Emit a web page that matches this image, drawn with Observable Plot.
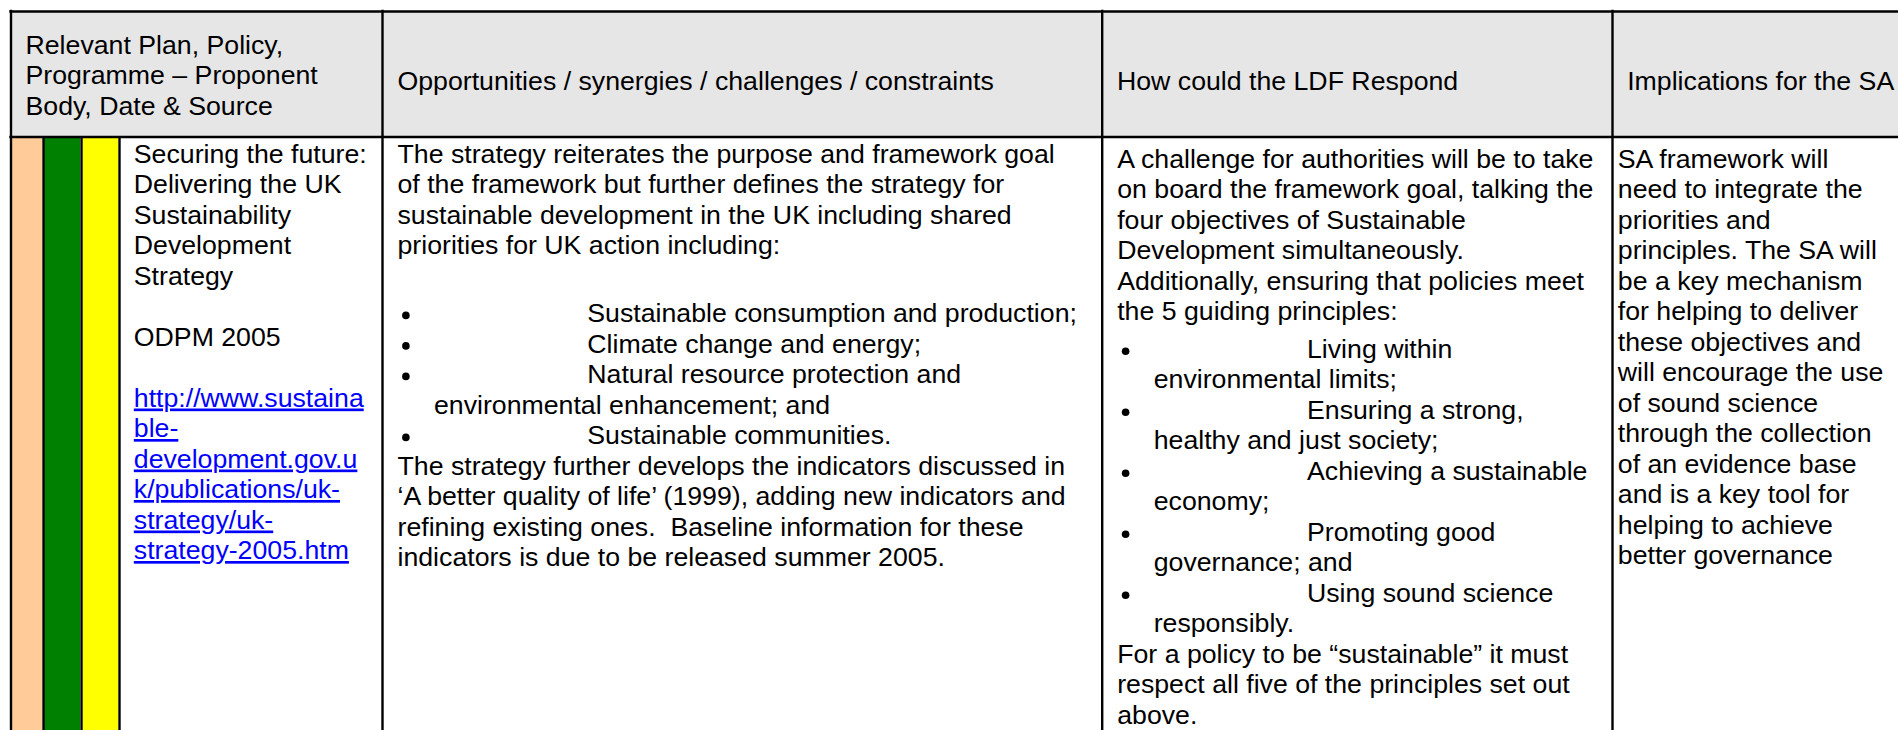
<!DOCTYPE html>
<html><head><meta charset="utf-8">
<script src="https://cdn.jsdelivr.net/npm/d3@7"></script>
<script src="https://cdn.jsdelivr.net/npm/@observablehq/plot@0.6"></script>
<style>
html,body{margin:0;padding:0;background:#fff;}
svg text{white-space:pre;}
</style></head><body><div id="chart"></div><script>
// ---------- content ----------
const headerFirstColumn = ["Relevant Plan, Policy,", "Programme – Proponent", "Body, Date & Source"];
const headers = ["Opportunities / synergies / challenges / constraints", "How could the LDF Respond", "Implications for the SA"];

const ratingColours = ["#FFCC99", "#008000", "#FFFF00"];

const planTitle = ["Securing the future:", "Delivering the UK", "Sustainability", "Development", "Strategy"];
const planSource = ["ODPM 2005"];
const planLink = ["http://www.sustaina", "ble-", "development.gov.u", "k/publications/uk-", "strategy/uk-", "strategy-2005.htm"];

const opportunitiesIntro = [
  "The strategy reiterates the purpose and framework goal",
  "of the framework but further defines the strategy for",
  "sustainable development in the UK including shared",
  "priorities for UK action including:"
];
const sharedPriorities = [
  ["Sustainable consumption and production;"],
  ["Climate change and energy;"],
  ["Natural resource protection and", "environmental enhancement; and"],
  ["Sustainable communities."]
];
const opportunitiesOutro = [
  "The strategy further develops the indicators discussed in",
  "\u2018A better quality of life\u2019 (1999), adding new indicators and",
  "refining existing ones.  Baseline information for these",
  "indicators is due to be released summer 2005."
];

const ldfIntro = [
  "A challenge for authorities will be to take",
  "on board the framework goal, talking the",
  "four objectives of Sustainable",
  "Development simultaneously.",
  "Additionally, ensuring that policies meet",
  "the 5 guiding principles:"
];
const guidingPrinciples = [
  ["Living within", "environmental limits;"],
  ["Ensuring a strong,", "healthy and just society;"],
  ["Achieving a sustainable", "economy;"],
  ["Promoting good", "governance; and"],
  ["Using sound science", "responsibly."]
];
const ldfOutro = [
  "For a policy to be \u201Csustainable\u201D it must",
  "respect all five of the principles set out",
  "above."
];

const saImplications = [
  "SA framework will", "need to integrate the", "priorities and", "principles. The SA will",
  "be a key mechanism", "for helping to deliver", "these objectives and", "will encourage the use",
  "of sound science", "through the collection", "of an evidence base", "and is a key tool for",
  "helping to achieve", "better governance"
];

// ---------- layout ----------
const W = 1898, H = 730;
const LH = 30.5;          // line height
const LIST_GAP = 7;       // space before a bulleted list
const tableTop = 11, headerBottom = 136.5, tableLeft = 10.5;
const colLines = [382, 1101.7, 1612];
const stripeBounds = [[11.7, 42], [44, 80], [82, 118]];
const stripeDividers = [43, 81, 119];

const texts = [];   // {x,y,text,kind}
const bullets = []; // {x,y}

// header
headerFirstColumn.forEach((t, i) => texts.push({x: 25, y: 53.3 + i * LH, text: t, kind: "head"}));
[397, 1116.5, 1626.7].forEach((x, i) => texts.push({x, y: 89.5, text: headers[i], kind: "head"}));

// column 0
{
  let y = 162;
  planTitle.forEach(t => { texts.push({x: 133.3, y, text: t, kind: "body"}); y += LH; });
  y += LH;
  planSource.forEach(t => { texts.push({x: 133.3, y, text: t, kind: "body"}); y += LH; });
  y += LH;
  planLink.forEach(t => { texts.push({x: 133.3, y, text: t, kind: "link"}); y += LH; });
}

function layoutList(col, top, intro, blankAfterIntro, items, outro) {
  const line = colLines[col];
  const textX = line + 15, bulletX = line + 23.4, itemX = line + 204.8, contX = line + 51.5;
  let y = top;
  intro.forEach(t => { texts.push({x: textX, y, text: t, kind: "body"}); y += LH; });
  if (blankAfterIntro) y += LH;
  y += LIST_GAP;
  items.forEach(item => {
    bullets.push({x: bulletX, y: y - 6.6});
    item.forEach((t, j) => { texts.push({x: j ? contX : itemX, y, text: t, kind: "body"}); y += LH; });
  });
  outro.forEach(t => { texts.push({x: textX, y, text: t, kind: "body"}); y += LH; });
}
layoutList(0, 162, opportunitiesIntro, true, sharedPriorities, opportunitiesOutro);
layoutList(1, 167.3, ldfIntro, false, guidingPrinciples, ldfOutro);

saImplications.forEach((t, i) => texts.push({x: 1617.3, y: 167.3 + i * LH, text: t, kind: "body"}));

// shapes
const fills = [{x1: tableLeft, x2: W, y1: tableTop, y2: headerBottom, fill: "#E6E6E6"}]
  .concat(ratingColours.map((c, i) => ({x1: stripeBounds[i][0], x2: stripeBounds[i][1], y1: headerBottom, y2: H, fill: c})));
const hLines = [{y: tableTop, x1: tableLeft - 1.2, x2: W}, {y: headerBottom, x1: tableLeft - 1.2, x2: W}];
const vLines = [{x: tableLeft, y1: tableTop - 1.2, y2: H}]
  .concat(colLines.map(x => ({x, y1: tableTop - 1.2, y2: H})))
  .concat(stripeDividers.map(x => ({x, y1: headerBottom, y2: H})));

const FONT = "'Liberation Sans', Arial, Helvetica, sans-serif";
const FS = 26.7;

const chart = Plot.plot({
  width: W, height: H,
  margin: 0, marginTop: 0, marginRight: 0, marginBottom: 0, marginLeft: 0,
  x: {type: "linear", domain: [0, W], range: [0, W], axis: null},
  y: {type: "linear", domain: [0, H], range: [0, H], axis: null},
  style: {background: "#fff", overflow: "visible"},
  marks: [
    Plot.rect(fills, {x1: "x1", x2: "x2", y1: "y1", y2: "y2", fill: "fill"}),
    Plot.ruleY(hLines, {y: "y", x1: "x1", x2: "x2", stroke: "#000", strokeWidth: 2.4}),
    Plot.ruleX(vLines, {x: "x", y1: "y1", y2: "y2", stroke: "#000", strokeWidth: 2.4}),
    Plot.text(texts.filter(d => d.kind !== "link"), {x: "x", y: "y", text: "text", textAnchor: "start", lineAnchor: "bottom", fontSize: FS, fontFamily: FONT, fill: "#000"}),
    Plot.text(texts.filter(d => d.kind === "link"), {x: "x", y: "y", text: "text", textAnchor: "start", lineAnchor: "bottom", fontSize: FS, fontFamily: FONT, fill: "#0000FF", ariaDescription: "link"}),
    Plot.dot(bullets, {x: "x", y: "y", r: 3.8, fill: "#000"})
  ]
});
d3.select(chart).selectAll("g[aria-description='link'] text").style("text-decoration", "underline");
document.getElementById("chart").appendChild(chart);
</script></body></html>
